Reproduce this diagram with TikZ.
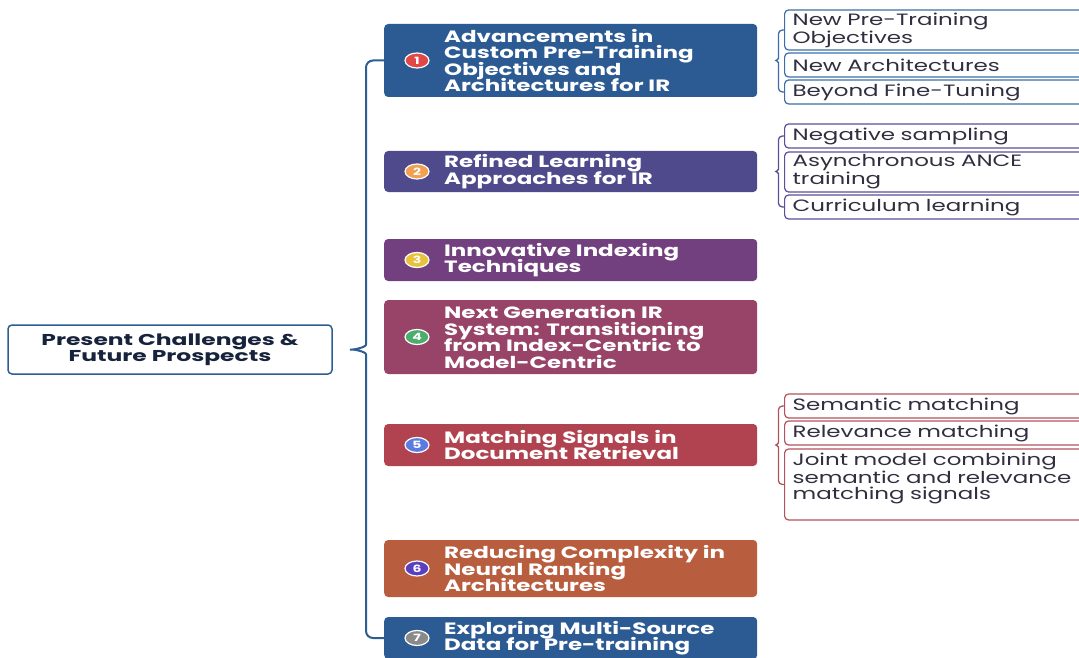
\documentclass[tikz,border=0pt]{standalone}
\usepackage{fontspec}
\setmainfont[FakeStretch=1.40]{Poppins}
\newfontfamily\rootfont[FakeStretch=1.49]{Poppins}
\usetikzlibrary{shapes.geometric,calc}

\definecolor{trunkc}{HTML}{2D5E93}
\definecolor{rootc}{HTML}{17223B}
\definecolor{leaftxt}{HTML}{2F2F3F}
\definecolor{c1}{HTML}{2C5B94}
\definecolor{c2}{HTML}{4F4A8C}
\definecolor{c3}{HTML}{72407E}
\definecolor{c4}{HTML}{984468}
\definecolor{c5}{HTML}{B0434F}
\definecolor{c6}{HTML}{B95D3F}
\definecolor{c7}{HTML}{2C5B94}
\definecolor{n1}{HTML}{E04848}
\definecolor{n2}{HTML}{F0A050}
\definecolor{n3}{HTML}{E8C23C}
\definecolor{n4}{HTML}{4CAE6C}
\definecolor{n5}{HTML}{5A7CE0}
\definecolor{n6}{HTML}{5A3FC0}
\definecolor{n7}{HTML}{8A8A8A}
\definecolor{g1}{HTML}{3B6EA8}
\definecolor{g2}{HTML}{5B4F98}
\definecolor{g3}{HTML}{B3525C}

\begin{document}
% keep line pitch fixed even when ascenders and descenders touch
\lineskiplimit=-100pt
\begin{tikzpicture}[x=1pt,y=-1pt,
  mainbox/.style={fill=#1, rounded corners=4pt, minimum width=373pt, inner sep=0pt, anchor=west},
  maintext/.style={text=white, font=\bfseries\fontsize{16.4}{16.4}\selectfont, align=left, inner sep=0pt, anchor=west},
  badge/.style={ellipse, fill=#1, draw=white, line width=1.2pt, minimum width=24pt, minimum height=15pt,
    inner sep=0pt, text=white, font=\bfseries\fontsize{10}{10}\selectfont},
  leaf/.style={draw=#1, line width=1.2pt, rounded corners=4pt, anchor=west, text width=290pt,
    inner xsep=8pt, inner ysep=0pt, align=left, text=leaftxt, font=\fontsize{16.4}{16.4}\selectfont},
  trunk/.style={draw=trunkc, line width=2pt},
  twig/.style={draw=#1, line width=1.3pt}
]
\useasboundingbox (0,0) rectangle (1079,658);
\clip (0,0) rectangle (1079,658);

% root topic
\node[draw=trunkc, line width=1.5pt, rounded corners=4pt, minimum width=324pt, minimum height=49pt,
  font=\rootfont\bfseries\fontsize{15.7}{16.4}\selectfont, text=rootc, align=center] (root) at (170,349.5)
  {Present Challenges \&\\Future Prospects};

% main topics
\node[mainbox=c1, minimum height=73pt] (b1) at (384,60.5) {};
\node[mainbox=c2, minimum height=41pt] (b2) at (384,171.5) {};
\node[mainbox=c3, minimum height=42pt] (b3) at (384,260) {};
\node[mainbox=c4, minimum height=74pt] (b4) at (384,337) {};
\node[mainbox=c5, minimum height=42pt] (b5) at (384,445) {};
\node[mainbox=c6, minimum height=57pt] (b6) at (384,568.5) {};
\node[mainbox=c7, minimum height=42pt] (b7) at (384,638) {};

\node[badge=n1] (k1) at (417,60.5) {1};
\node[badge=n2] (k2) at (417,171.5) {2};
\node[badge=n3] (k3) at (417,260) {3};
\node[badge=n4] (k4) at (417,337) {4};
\node[badge=n5] (k5) at (417,445) {5};
\node[badge=n6] (k6) at (417,568.5) {6};
\node[badge=n7] (k7) at (417,638) {7};

\node[maintext] (t1) at (444,60.5) {Advancements in\\Custom Pre-Training\\Objectives and\\Architectures for IR};
\node[maintext] (t2) at (444,171.5) {Refined Learning\\Approaches for IR};
\node[maintext] (t3) at (444,260) {Innovative Indexing\\Techniques};
\node[maintext] (t4) at (444,337) {Next Generation IR\\System: Transitioning\\from Index-Centric to\\Model-Centric};
\node[maintext] (t5) at (444,445) {Matching Signals in\\Document Retrieval};
\node[maintext] (t6) at (444,568.5) {Reducing Complexity in\\Neural Ranking\\Architectures};
\node[maintext] (t7) at (444,638) {Exploring Multi-Source\\Data for Pre-training};

% sub topics
\node[leaf=g1, minimum height=40pt] (l11) at (784,30) {New Pre-Training\\Objectives};
\node[leaf=g1, minimum height=24pt] (l12) at (784,65) {New Architectures};
\node[leaf=g1, minimum height=24pt] (l13) at (784,92) {Beyond Fine-Tuning};
\node[leaf=g2, minimum height=24pt] (l21) at (784,136) {Negative sampling};
\node[leaf=g2, minimum height=40pt] (l22) at (784,172) {Asynchronous ANCE\\training};
\node[leaf=g2, minimum height=24pt] (l23) at (784,207) {Curriculum learning};
\node[leaf=g3, minimum height=24pt] (l31) at (784,406) {Semantic matching};
\node[leaf=g3, minimum height=24pt] (l32) at (784,433) {Relevance matching};
\node[leaf=g3, minimum height=71pt] (l33) at (784,484.5) {Joint model combining\\semantic and relevance\\matching signals\\[0pt]\mbox{}};

% main brace
\coordinate (tip) at ($(root.east)+(13,0)$);
\coordinate (sp) at (366,0);
\draw[trunk, rounded corners=7pt] (b1.west) -- (b1.west -| sp) -- ($(tip -| sp)+(0,-12)$)
  .. controls ($(tip -| sp)+(0,-2)$) and ($(tip)+(8,0)$) .. (tip)
  .. controls ($(tip)+(8,0)$) and ($(tip -| sp)+(0,2)$) .. ($(tip -| sp)+(0,12)$)
  -- (b7.west -| sp) -- (b7.west);

% sub-topic braces
\foreach \b/\top/\bot/\col in {b1/l11/l13/g1, b2/l21/l23/g2, b5/l31/l33/g3}{
  \coordinate (st) at ($(\b.east)+(15,0)$);
  \coordinate (ss) at ($(\b.east)+(21,0)$);
  \draw[twig=\col, rounded corners=4pt] (\top.west) -- (\top.west -| ss) -- ($(st -| ss)+(0,-6)$)
    .. controls ($(st -| ss)+(0,-1)$) and ($(st)+(3,0)$) .. (st)
    .. controls ($(st)+(3,0)$) and ($(st -| ss)+(0,1)$) .. ($(st -| ss)+(0,6)$)
    -- (\bot.west -| ss) -- (\bot.west);
}
\end{tikzpicture}
\end{document}
